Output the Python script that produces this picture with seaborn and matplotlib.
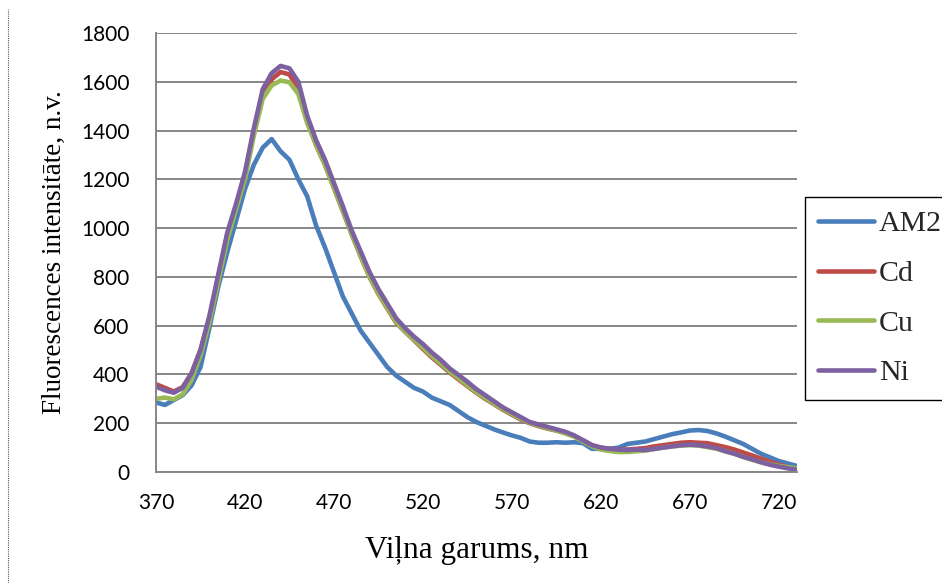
import numpy as np
import pandas as pd
import matplotlib
matplotlib.use("Agg")
import matplotlib.pyplot as plt
import seaborn as sns
from matplotlib.lines import Line2D

wavelength = list(range(370, 731, 5))

am2 = [285, 275, 295, 315, 355, 430, 590, 760, 900, 1030, 1160, 1260, 1330, 1365, 1315,
       1280, 1200, 1130, 1010, 920, 820, 720, 650, 580, 530, 480, 430, 395, 370, 345,
       330, 305, 290, 275, 250, 225, 205, 190, 175, 162, 150, 140, 125, 120, 120, 122,
       120, 122, 118, 95, 95, 95, 100, 115, 120, 125, 135, 145, 155, 162, 170, 172,
       168, 158, 145, 130, 115, 95, 75, 60, 45, 35, 25]

cd = [360, 345, 330, 348, 405, 500, 630, 800, 970, 1090, 1220, 1400, 1550, 1610, 1640,
      1630, 1570, 1440, 1340, 1260, 1165, 1070, 975, 885, 800, 730, 670, 612, 575, 540,
      505, 470, 440, 408, 380, 352, 325, 300, 278, 255, 235, 215, 200, 188, 178, 170,
      160, 148, 130, 110, 100, 95, 92, 92, 95, 98, 105, 110, 115, 120, 122, 120,
      118, 110, 102, 92, 80, 68, 55, 42, 30, 20, 12]

cu = [300, 305, 298, 318, 378, 478, 612, 782, 950, 1078, 1200, 1380, 1530, 1585, 1605,
      1598, 1550, 1430, 1340, 1258, 1165, 1070, 975, 885, 800, 732, 672, 615, 575, 542,
      510, 475, 445, 412, 385, 355, 328, 303, 280, 258, 238, 218, 202, 190, 180, 170,
      158, 145, 125, 105, 92, 86, 82, 82, 85, 88, 94, 100, 105, 108, 110, 108,
      102, 95, 85, 75, 62, 50, 40, 32, 25, 20, 15]

ni = [350, 335, 325, 345, 405, 500, 640, 810, 980, 1100, 1230, 1410, 1570, 1635, 1665,
      1655, 1600, 1460, 1360, 1280, 1185, 1090, 990, 905, 820, 750, 690, 630, 590, 555,
      525, 490, 460, 425, 398, 370, 340, 315, 290, 265, 245, 225, 205, 195, 185, 175,
      165, 150, 130, 110, 100, 95, 92, 90, 92, 90, 95, 100, 105, 110, 112, 110,
      105, 98, 85, 75, 62, 52, 40, 30, 22, 15, 10]

series_names = ["AM2", "Cd", "Cu", "Ni"]
colors = ["#4a7ebb", "#be4b48", "#98b954", "#7d60a0"]

x_ticks = [370, 420, 470, 520, 570, 620, 670, 720]
y_ticks = [0, 200, 400, 600, 800, 1000, 1200, 1400, 1600, 1800]

df = pd.concat([
    pd.DataFrame({"wl": wavelength, "val": v, "series": n})
    for n, v in zip(series_names, [am2, cd, cu, ni])
], ignore_index=True)

sns.set_theme(style="white")
fig = plt.figure(figsize=(9.42, 5.83), dpi=100)
ax = fig.add_axes([0.1656, 0.1904, 0.680, 0.753])

sns.lineplot(data=df, x="wl", y="val", hue="series", hue_order=series_names,
             palette=colors, linewidth=3.3, ax=ax, legend=False)

ax.set_xlim(370, 730)
ax.set_ylim(0, 1800)
ax.set_xticks(x_ticks)
ax.set_yticks(y_ticks)
ax.yaxis.grid(True, color="#878787", linewidth=1.4)
ax.xaxis.grid(False)
ax.set_axisbelow(True)
for s in ["top", "right"]:
    ax.spines[s].set_visible(False)
for s in ["left", "bottom"]:
    ax.spines[s].set_color("#878787")
    ax.spines[s].set_linewidth(1.4)
ax.tick_params(axis="x", direction="out", length=6, width=1.4, color="#878787",
               labelsize=15, labelcolor="black", pad=9)
ax.tick_params(axis="y", direction="out", length=7, width=1.4, color="#878787",
               labelsize=15, labelcolor="black", pad=12)
for lab in ax.get_xticklabels() + ax.get_yticklabels():
    lab.set_fontfamily("Lato")

ax.set_xlabel("Viļna garums, nm", fontfamily="Liberation Serif", fontsize=22.5,
              color="black", labelpad=17)
ax.set_ylabel("Fluorescences intensitāte, n.v.", fontfamily="Liberation Serif",
              fontsize=19.5, color="black", labelpad=10)

handles = [Line2D([0], [0], color=c, lw=3.3) for c in colors]
leg = fig.legend(handles, series_names, loc="upper left",
                 bbox_to_anchor=(0.8546, 0.662), frameon=True, fancybox=False,
                 edgecolor="black", framealpha=1, handlelength=1.85,
                 handletextpad=0.17, labelspacing=0.76, borderpad=0.45,
                 borderaxespad=0.0,
                 prop={"family": "Liberation Serif", "size": 21.5})
leg.get_frame().set_linewidth(1.0)

fig.add_artist(Line2D([0.0085, 0.0085], [0.0, 0.985], transform=fig.transFigure,
                      color="#555555", linewidth=0.8, linestyle=(0, (1, 1))))

fig.savefig("out.png", dpi=100)
